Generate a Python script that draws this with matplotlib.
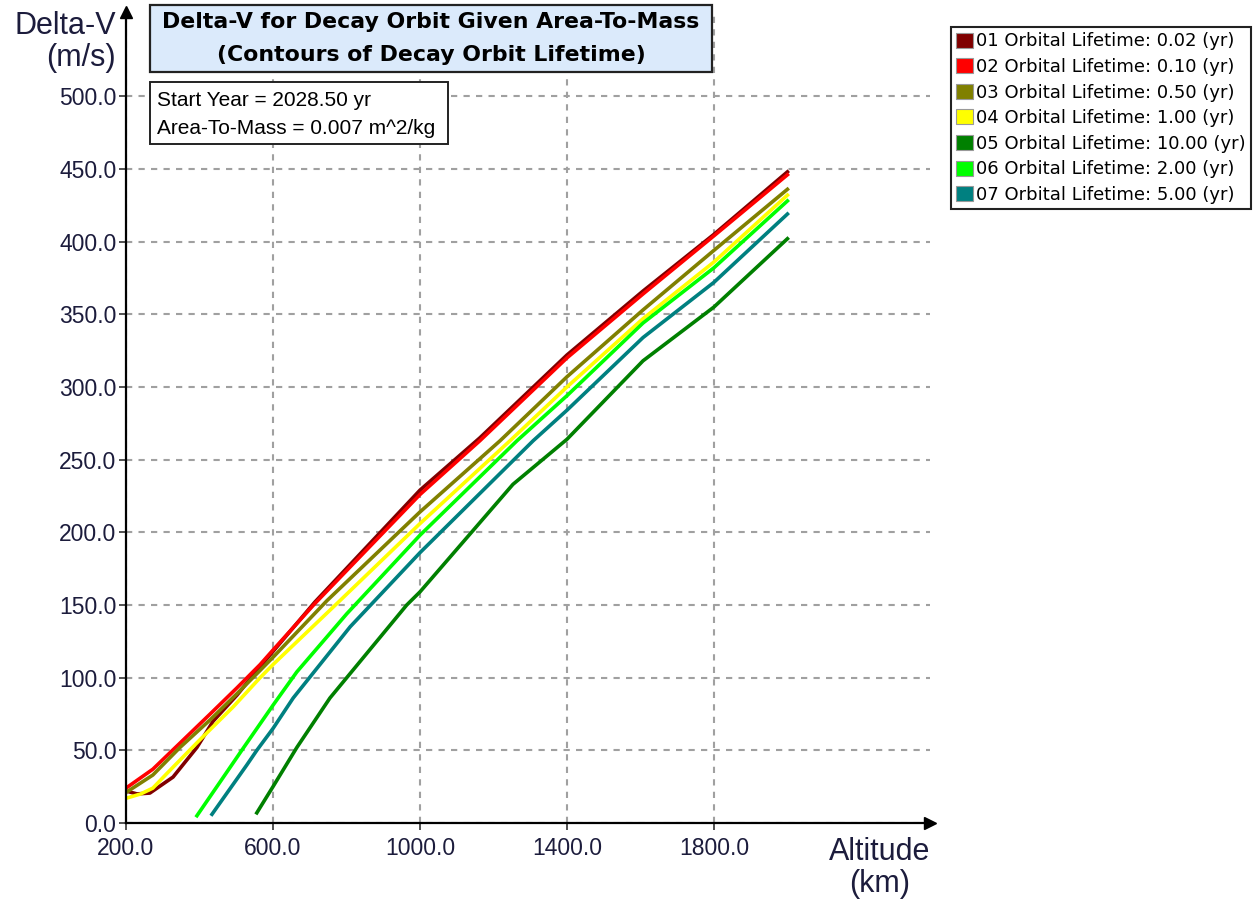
import matplotlib
matplotlib.use("Agg")
import matplotlib.pyplot as plt
from matplotlib.patches import Rectangle, Patch

plt.rcParams['font.family'] = ['Liberation Sans', 'DejaVu Sans']

# altitude (km) / delta-v (m/s), one pair of lists per contour
labels = ['01 Orbital Lifetime: 0.02 (yr)', '02 Orbital Lifetime: 0.10 (yr)',
          '03 Orbital Lifetime: 0.50 (yr)', '04 Orbital Lifetime: 1.00 (yr)',
          '05 Orbital Lifetime: 10.00 (yr)', '06 Orbital Lifetime: 2.00 (yr)',
          '07 Orbital Lifetime: 5.00 (yr)']
colors = ['#800000', '#ff0000', '#808000', '#ffff00', '#008000', '#00ff00', '#008080']

alt_01 = [200, 230, 265, 328, 393, 437, 502, 560, 600, 714, 1000, 1163, 1400, 1607, 1800, 2000]
dv_01 = [22, 20, 20.6, 31.6, 52, 70, 88, 106, 118, 152, 229, 265, 322, 366, 405, 448]

alt_02 = [200, 273, 347, 429, 502, 565, 600, 714, 1000, 1163, 1400, 1607, 1800, 2000]
dv_02 = [24, 37, 55, 75, 93, 109, 119, 151, 226, 263, 320, 364, 404, 446]

alt_03 = [200, 273, 347, 429, 502, 565, 600, 747, 1000, 1218, 1400, 1607, 1800, 2000]
dv_03 = [21, 33, 52, 71, 89, 105, 114, 153, 214, 263, 307, 353, 394, 436]

alt_04 = [200, 240, 273, 311, 400, 492, 565, 600, 774, 1000, 1245, 1400, 1607, 1800, 2000]
dv_04 = [17, 20, 24, 34, 57, 80, 100, 109, 151, 206, 263, 300, 347, 386, 432]

alt_05 = [556, 600, 665, 755, 964, 1000, 1253, 1400, 1607, 1800, 2000]
dv_05 = [7, 25, 52, 86, 150, 159, 233, 264, 318, 355, 402]

alt_06 = [393, 450, 515, 600, 665, 801, 1000, 1264, 1400, 1607, 1800, 2000]
dv_06 = [5, 26, 50, 81, 104, 144, 198, 263, 294, 344, 382, 428]

alt_07 = [434, 529, 556, 600, 655, 810, 1000, 1308, 1400, 1607, 1800, 2000]
dv_07 = [6, 40, 50, 65, 86, 135, 186, 263, 284, 334, 372, 419]

series = [(alt_01, dv_01), (alt_02, dv_02), (alt_03, dv_03), (alt_04, dv_04),
          (alt_05, dv_05), (alt_06, dv_06), (alt_07, dv_07)]

x_ticks = [200, 600, 1000, 1400, 1800]
y_ticks = [0, 50, 100, 150, 200, 250, 300, 350, 400, 450, 500]

W, H = 1259, 905
fig = plt.figure(figsize=(W / 100, H / 100), dpi=100)
ax = fig.add_axes([126 / W, 1 - 823 / H, (930 - 126) / W, (823 - 12) / H])

for (x, y), c in zip(series, colors):
    ax.plot(x, y, color=c, lw=2.6, solid_joinstyle='round')

ax.set_xlim(200, 2388)
ax.set_ylim(0, 558)
ax.set_xticks(x_ticks)
ax.set_yticks(y_ticks)
ax.set_xticklabels([f'{v:.1f}' for v in x_ticks])
ax.set_yticklabels([f'{v:.1f}' for v in y_ticks])
ax.tick_params(labelsize=16.5, labelcolor='#1c1c3c', length=5, width=1.2,
               color='#333333', pad=2)
ax.tick_params(axis='x', pad=5)

ax.grid(True, color='#a0a0a0', lw=1.5, ls=(0, (3, 3)))
ax.set_axisbelow(True)
for s in ['top', 'right']:
    ax.spines[s].set_visible(False)
for s in ['left', 'bottom']:
    ax.spines[s].set_linewidth(1.6)
ax.plot(0, 1, marker='^', color='black', ms=9, transform=ax.transAxes, clip_on=False)
ax.plot(1, 0, marker='>', color='black', ms=9, transform=ax.transAxes, clip_on=False)

# axis titles
fig.text(116 / W, 1 - 42 / H, 'Delta-V\n(m/s)', ha='right', va='center',
         multialignment='right', fontsize=22, color='#1c1c3c', linespacing=1.05)
fig.text(880 / W, 1 - 868 / H, 'Altitude\n(km)', ha='center', va='center',
         multialignment='center', fontsize=22, color='#1c1c3c', linespacing=1.05)

# title box
fig.add_artist(Rectangle((150 / W, 1 - 72 / H), (712 - 150) / W, (72 - 5) / H,
                         transform=fig.transFigure, facecolor='#dbeafb',
                         edgecolor='#222222', lw=1.6))
fig.text(431 / W, 1 - 22 / H, 'Delta-V for Decay Orbit Given Area-To-Mass',
         ha='center', va='center', fontsize=15.8, fontweight='bold',
         family=['DejaVu Sans'])
fig.text(431 / W, 1 - 55 / H, '(Contours of Decay Orbit Lifetime)',
         ha='center', va='center', fontsize=15.8, fontweight='bold',
         family=['DejaVu Sans'])

# info box
fig.add_artist(Rectangle((150 / W, 1 - 144 / H), (448 - 150) / W, (144 - 82) / H,
                         transform=fig.transFigure, facecolor='white',
                         edgecolor='#222222', lw=1.4))
fig.text(157 / W, 1 - 100 / H, 'Start Year = 2028.50 yr', ha='left', va='center',
         fontsize=15)
fig.text(157 / W, 1 - 128 / H, 'Area-To-Mass = 0.007 m^2/kg', ha='left', va='center',
         fontsize=15)

# legend
handles = [Patch(facecolor=c, edgecolor='#999999', lw=0.8) for c in colors]
leg = fig.legend(handles, labels, loc='upper left',
                 bbox_to_anchor=(951 / W, 1 - 27 / H),
                 prop={'family': 'DejaVu Sans', 'size': 13},
                 handlelength=0.9, handleheight=0.9, handletextpad=0.2,
                 labelspacing=0.42, borderpad=0.3, borderaxespad=0,
                 fancybox=False, framealpha=1, edgecolor='#222222')
leg.get_frame().set_linewidth(1.5)

fig.savefig('out.png', dpi=100)
